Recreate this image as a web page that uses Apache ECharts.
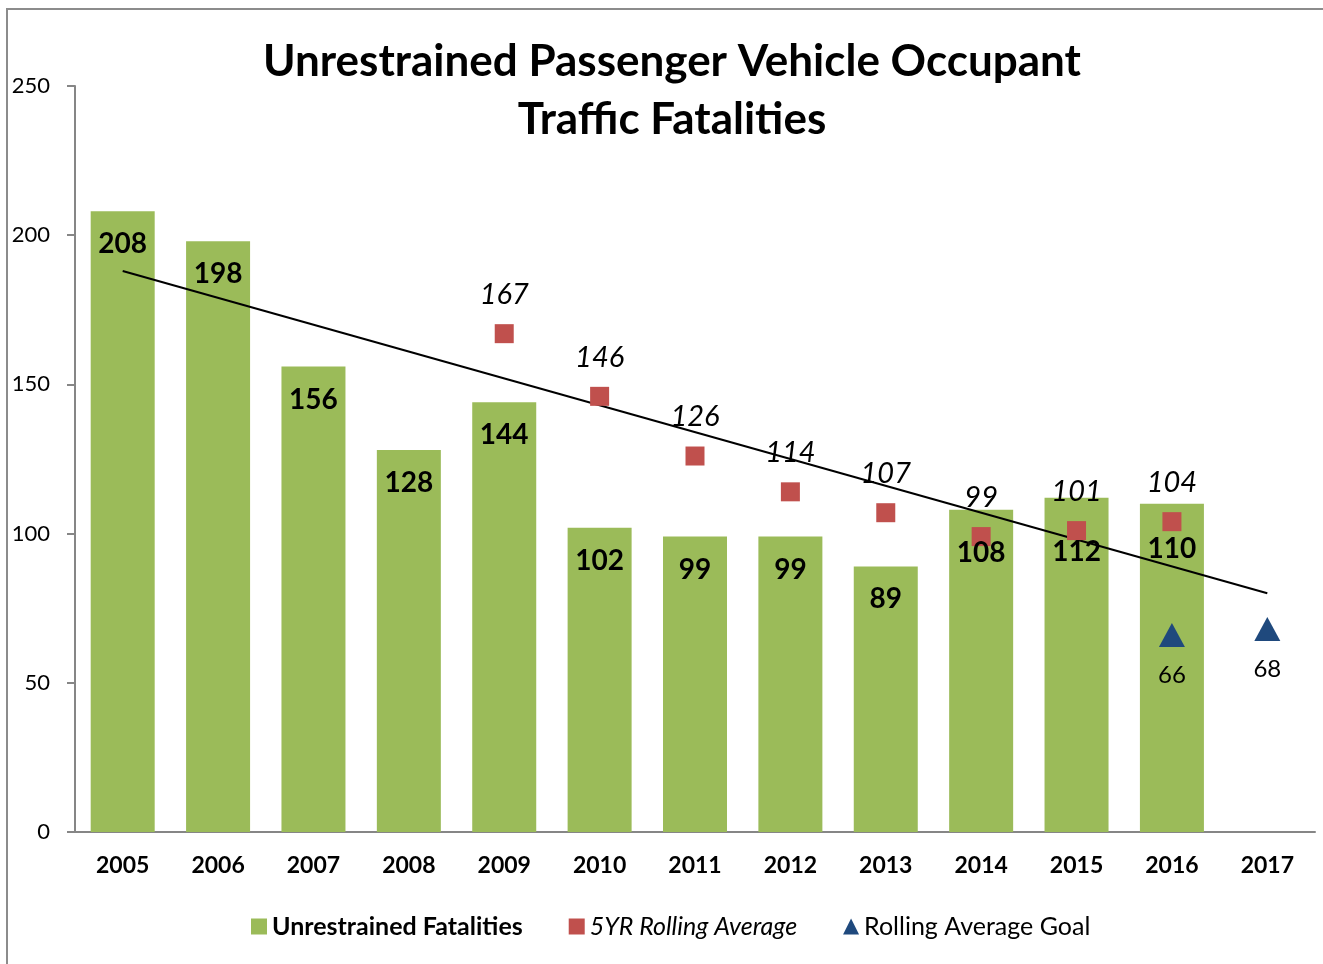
<!DOCTYPE html>
<html>
<head>
<meta charset="utf-8">
<script src="https://cdn.jsdelivr.net/npm/echarts@6/dist/echarts.min.js"></script>
<style>
  html, body { margin: 0; padding: 0; background: #fff; }
  .frame {
    position: absolute; left: 6px; top: 8px; width: 1400px; height: 1000px;
    border-left: 2px solid #8c8c8c; border-top: 2px solid #8c8c8c; box-sizing: border-box;
  }
  #chart { position: absolute; left: 0; top: 0; width: 1323px; height: 964px; }
</style>
</head>
<body>
<div class="frame"></div>
<div id="chart"></div>
<script>
const years = ['2005', '2006', '2007', '2008', '2009', '2010', '2011', '2012', '2013', '2014', '2015', '2016', '2017']
const fatalities = [208, 198, 156, 128, 144, 102, 99, 99, 89, 108, 112, 110, null]
const rollingAvg = [null, null, null, null, 167, 146, 126, 114, 107, 99, 101, 104, null]
const goal = [null, null, null, null, null, null, null, null, null, null, null, 66, 68]
// trendline endpoints
const trend = [188, null, null, null, null, null, null, null, null, null, null, null, 80]
const yTicks = [0, 50, 100, 150, 200, 250]

const font = 'Lato, "Open Sans", sans-serif'
const axisGray = '#868686'

// a few bar labels were nudged down in the original to clear the squares
const labelNudge = { 9: 10, 10: 21, 11: 12 }
const barLabelData = fatalities.map((v, i) =>
  labelNudge[i] ? { value: v, label: { offset: [0, labelNudge[i]] } } : v
)

const chart = echarts.init(document.getElementById('chart'))
chart.setOption({
  animation: false,
  textStyle: { fontFamily: font },
  title: {
    text: 'Unrestrained Passenger Vehicle Occupant\nTraffic Fatalities',
    left: 667, top: 28, textAlign: 'center',
    textStyle: { fontSize: 44, fontWeight: 'bold', color: '#000', lineHeight: 58, fontFamily: font },
  },
  legend: {
    bottom: 20, left: 246, itemGap: 46, itemWidth: 16, itemHeight: 16,
    textStyle: { fontSize: 25, color: '#000', fontFamily: font },
    data: [
      { name: 'Unrestrained Fatalities', icon: 'rect', textStyle: { fontWeight: 'bold' } },
      { name: '5YR Rolling Average', icon: 'rect', textStyle: { fontStyle: 'italic' } },
      { name: 'Rolling Average Goal', icon: 'triangle' },
    ],
  },
  grid: { left: 75, right: 8, top: 86, bottom: 132 },
  xAxis: {
    type: 'category',
    data: years,
    axisLine: { lineStyle: { color: axisGray, width: 2 } },
    axisTick: { length: 8, lineStyle: { color: axisGray, width: 2 } },
    axisLabel: { color: '#000', fontSize: 23, fontWeight: 'bold', margin: 22 },
  },
  yAxis: {
    type: 'value', min: 0, max: 250, interval: 50,
    axisLine: { show: true, lineStyle: { color: axisGray, width: 2 } },
    axisTick: { show: true, length: 8, lineStyle: { color: axisGray, width: 2 } },
    splitLine: { show: false },
    axisLabel: {
      color: '#000', fontSize: 22, margin: 25,
      formatter: (v) => (yTicks.includes(v) ? String(v) : ''),
    },
  },
  series: [
    {
      name: 'Unrestrained Fatalities',
      type: 'bar',
      data: fatalities,
      barWidth: 64,
      itemStyle: { color: '#9bbb59' },
      z: 1,
    },
    {
      // same values again, transparent, so the bar labels sit above the markers
      name: 'barLabels',
      type: 'bar',
      data: barLabelData,
      barWidth: 64,
      barGap: '-100%',
      itemStyle: { color: 'transparent' },
      label: {
        show: true, position: 'insideTop', distance: 19,
        fontSize: 28, fontWeight: 'bold', color: '#000', fontFamily: font,
      },
      silent: true,
      z: 6,
    },
    {
      name: 'trend',
      type: 'line',
      data: trend,
      connectNulls: true,
      showSymbol: false,
      symbol: 'none',
      lineStyle: { color: '#000', width: 2 },
      z: 3,
    },
    {
      name: '5YR Rolling Average',
      type: 'scatter',
      data: rollingAvg,
      symbol: 'rect',
      symbolSize: 19,
      itemStyle: { color: '#c0504d', opacity: 1 },
      label: {
        show: true, position: 'top', distance: 15,
        fontSize: 29, fontStyle: 'italic', color: '#000', fontFamily: font,
      },
      z: 4,
    },
    {
      name: 'Rolling Average Goal',
      type: 'scatter',
      data: goal,
      symbol: 'triangle',
      symbolSize: [26, 24],
      itemStyle: { color: '#1f497d', opacity: 1 },
      label: {
        show: true, position: 'bottom', distance: 16,
        fontSize: 24, color: '#000', fontFamily: font,
      },
      z: 4,
    },
  ],
})
</script>
</body>
</html>
